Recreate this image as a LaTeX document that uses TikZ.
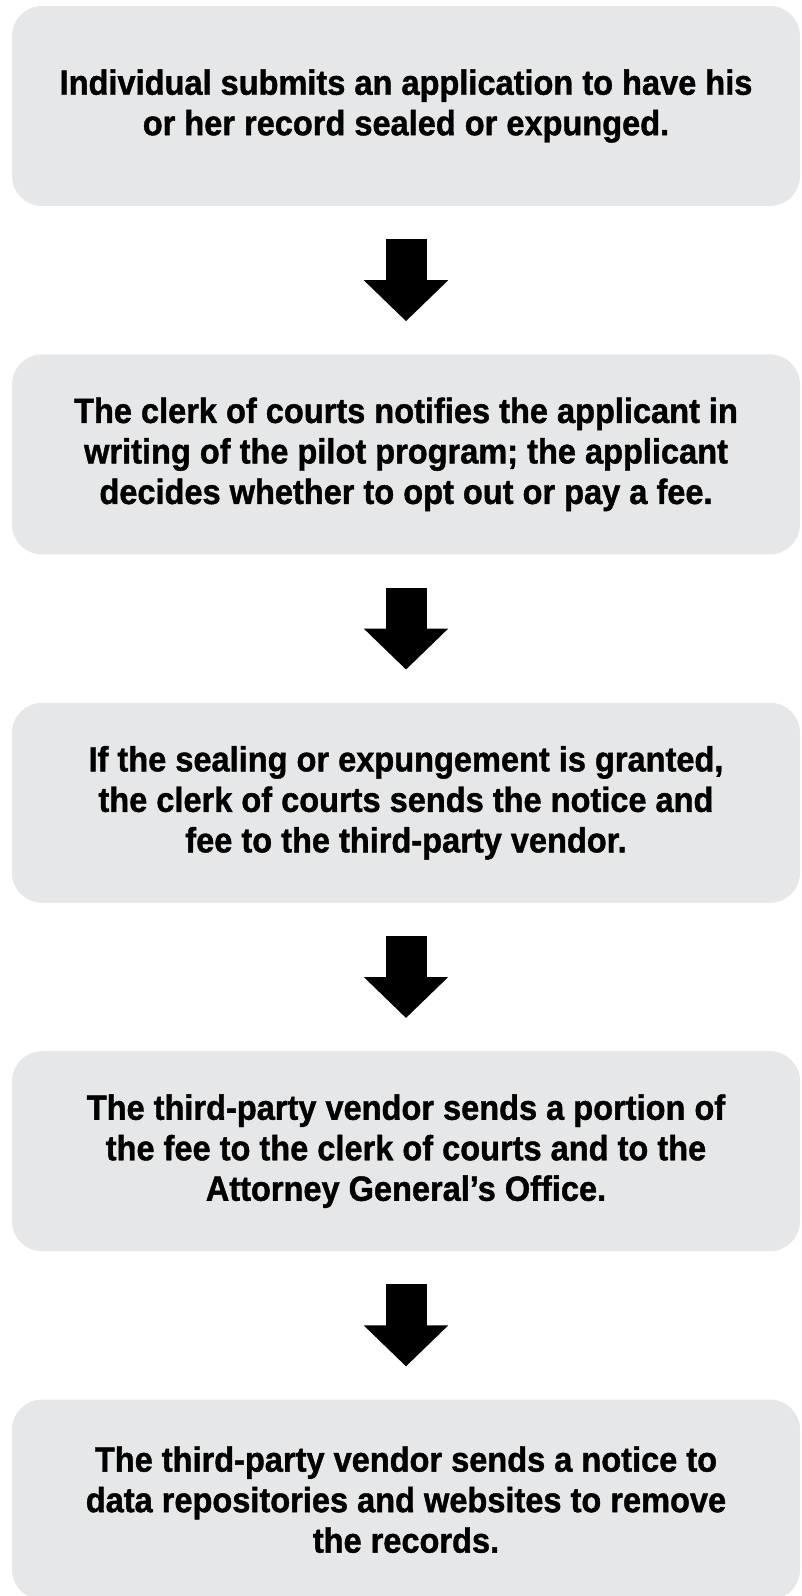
\documentclass[tikz,border=0pt]{standalone}
\usepackage{fontspec}
\setmainfont{Liberation Sans}[FakeStretch=0.93, BoldFeatures={FakeBold=1.2}]
\usetikzlibrary{positioning,arrows.meta}
\definecolor{boxgray}{HTML}{E6E7E8}
\begin{document}
\begin{tikzpicture}[x=1pt,y=1pt,
    stepbox/.style={fill=boxgray, rounded corners=30pt, inner sep=0pt,
      minimum width=788pt, minimum height=200pt, align=center,
      font=\fontsize{35}{40.5}\selectfont\bfseries,
      execute at begin node={\rule{0pt}{40pt}}},
    flowarrow/.style={line width=41pt, black,
      -{Triangle[width=82pt,length=41pt]}}]
    \useasboundingbox (0,0) rectangle (801,-1596);
    \node [stepbox] (apply) at (406,-106) {Individual submits an application to have his\\or her record sealed or expunged.};
    \node [stepbox, below=148pt of apply] (notify) {The clerk of courts notifies the applicant in\\writing of the pilot program; the applicant\\decides whether to opt out or pay a fee.};
    \node [stepbox, below=148pt of notify] (grant) {If the sealing or expungement is granted,\\the clerk of courts sends the notice and\\fee to the third-party vendor.};
    \node [stepbox, below=148pt of grant] (portion) {The third-party vendor sends a portion of\\the fee to the clerk of courts and to the\\Attorney General’s Office.};
    \node [stepbox, below=148pt of portion] (remove) {The third-party vendor sends a notice to\\data repositories and websites to remove\\the records.};
    \draw [flowarrow] ([yshift=-33pt]apply.south) -- ([yshift=33pt]notify.north);
    \draw [flowarrow] ([yshift=-33pt]notify.south) -- ([yshift=33pt]grant.north);
    \draw [flowarrow] ([yshift=-33pt]grant.south) -- ([yshift=33pt]portion.north);
    \draw [flowarrow] ([yshift=-33pt]portion.south) -- ([yshift=33pt]remove.north);
\end{tikzpicture}
\end{document}
